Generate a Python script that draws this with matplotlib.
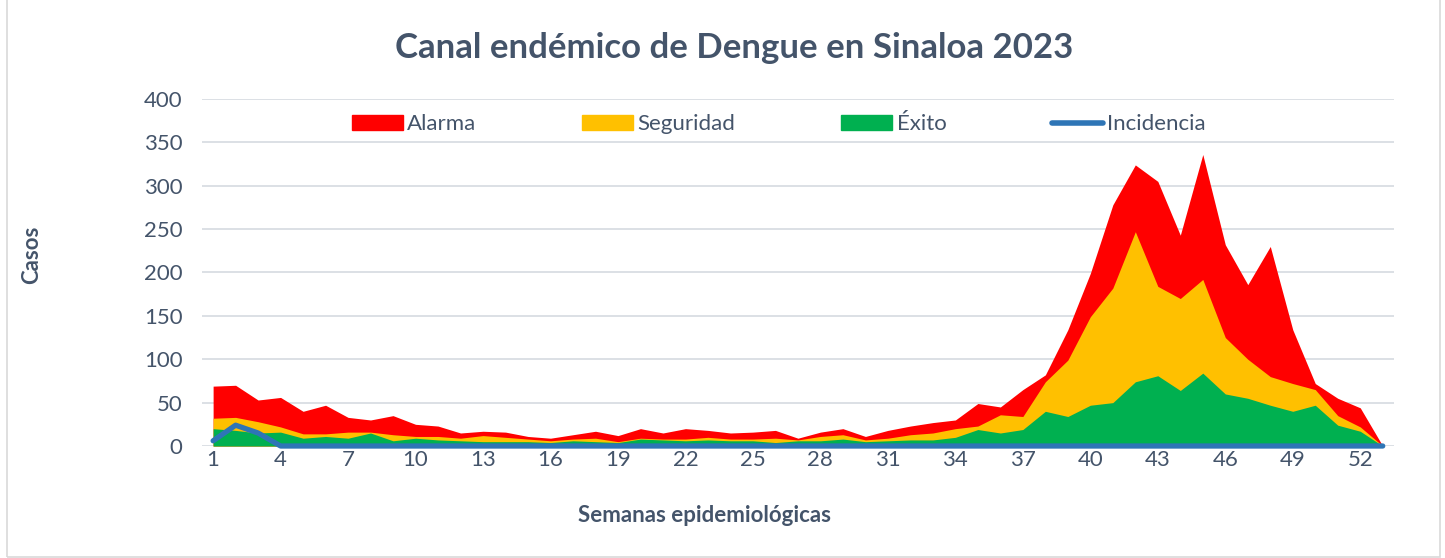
import numpy as np
import matplotlib
matplotlib.use("Agg")
import matplotlib.pyplot as plt
from matplotlib.lines import Line2D
from matplotlib.patches import Patch, Rectangle

plt.rcParams['font.family'] = ['Lato', 'DejaVu Sans']

weeks = list(range(1, 54))

alarma = [69, 70, 53, 56, 40, 47, 33, 30, 35, 25, 23, 15, 17,
          16, 11, 9, 13, 17, 12, 20, 15, 20, 18, 15, 16, 18,
          9, 16, 20, 11, 18, 23, 27, 30, 49, 45,
          65, 82, 134, 199, 278, 324, 305, 243, 336, 232, 186, 230, 134, 72, 55, 44, 0]
seguridad = [32, 33, 28, 22, 14, 14, 16, 16, 13, 11, 11, 9, 12,
             10, 8, 6, 8, 9, 5, 9, 8, 8, 10, 8, 8, 9,
             7, 11, 13, 7, 9, 13, 15, 20, 23, 36,
             34, 74, 99, 149, 182, 247, 184, 170, 192, 125, 100, 80, 72, 65, 35, 22, 0]
exito = [20, 18, 15, 16, 9, 11, 9, 15, 6, 9, 7, 6, 5,
         5, 5, 4, 6, 5, 4, 8, 7, 6, 7, 6, 6, 4,
         6, 6, 8, 5, 6, 7, 7, 10, 19, 15,
         19, 40, 34, 47, 50, 74, 81, 64, 84, 60, 55, 47, 40, 47, 24, 17, 0]
incidencia = [6, 24, 15, 0, 0, 0, 0, 0, 0, 0, 0, 0, 0,
              0, 0, 0, 0, 0, 0, 0, 0, 0, 0, 0, 0, 0,
              0, 0, 0, 0, 0, 0, 0, 0, 0, 0,
              0, 0, 0, 0, 0, 0, 0, 0, 0, 0, 0, 0, 0, 0, 0, 0, 0]

xticks = list(range(1, 54, 3))

text_color = '#44546A'
red = '#FF0000'
yellow = '#FFC000'
green = '#00B050'
blue = '#2E75B6'

fig = plt.figure(figsize=(14.45, 5.58), dpi=100)
ax = fig.add_axes([0.1397, 0.2007, 0.825, 0.6219])

ax.fill_between(weeks, alarma, color=red, lw=0, zorder=2)
ax.fill_between(weeks, seguridad, color=yellow, lw=0, zorder=3)
ax.fill_between(weeks, exito, color=green, lw=0, zorder=4)
ax.plot(weeks, incidencia, color=blue, lw=3.8, solid_capstyle='round', zorder=5, clip_on=False)

ax.set_xlim(0.5, 53.5)
ax.set_ylim(0, 400)
ax.set_yticks(range(0, 401, 50))
ax.set_xticks(xticks)
ax.grid(axis='y', color='#D9DDE3', lw=1.3, zorder=0)
ax.set_axisbelow(True)
for s in ax.spines.values():
    s.set_visible(False)
ax.tick_params(length=0, labelsize=16, labelcolor=text_color, pad=3)
ax.tick_params(axis='y', pad=14)

handles = [Patch(color=red), Patch(color=yellow), Patch(color=green),
           Line2D([0], [0], color=blue, lw=4, solid_capstyle='round')]
labels = ['Alarma', 'Seguridad', 'Éxito', 'Incidencia']
leg = ax.legend(handles, labels, loc='center', bbox_to_anchor=(0.484, 0.927), ncol=4,
                frameon=False, fontsize=16, handlelength=2.3, handleheight=0.6,
                handletextpad=0.2, columnspacing=4.75)
for t in leg.get_texts():
    t.set_color(text_color)

fig.text(734 / 1445, 1 - 48 / 558, 'Canal endémico de Dengue en Sinaloa 2023',
         ha='center', va='center', fontsize=25, fontweight='bold', color=text_color)
fig.text(705 / 1445, 1 - 516 / 558, 'Semanas epidemiológicas',
         ha='center', va='center', fontsize=16, fontweight='bold', color=text_color)
fig.text(32 / 1445, 1 - 255 / 558, 'Casos', rotation=90,
         ha='center', va='center', fontsize=16, fontweight='bold', color=text_color)

fig.patches.append(Rectangle((6.5 / 1445, 0.002), 1433 / 1445, 1.2, transform=fig.transFigure,
                             fill=False, edgecolor='#D9D9D9', lw=1.2))

fig.savefig('out.png', dpi=100)
